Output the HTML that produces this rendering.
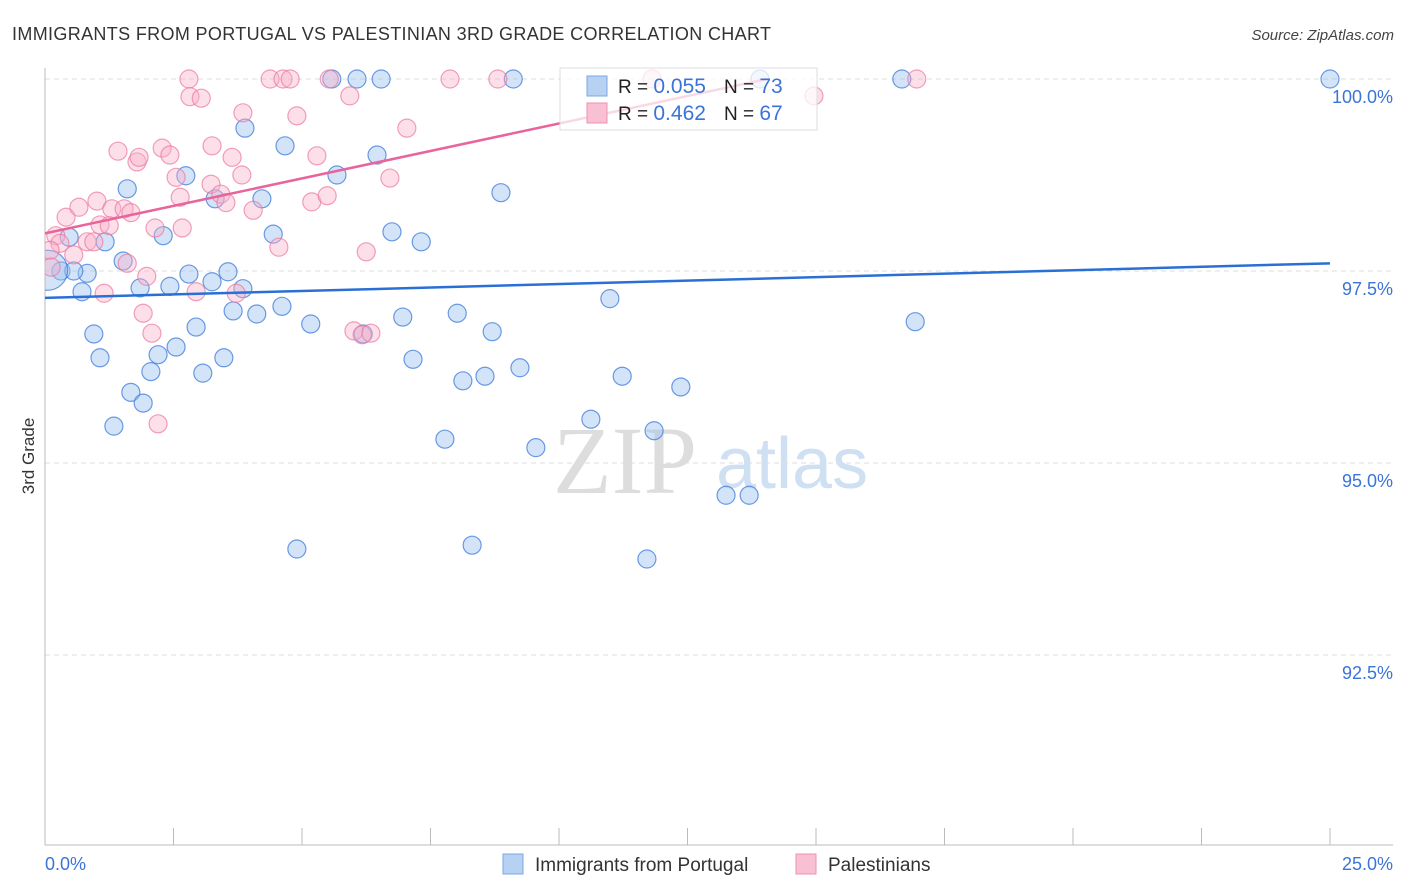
<!DOCTYPE html>
<html><head><meta charset="utf-8"><style>
body{margin:0;background:#fff;font-family:"Liberation Sans",sans-serif;}
svg{display:block}
</style></head><body>
<svg id="chart" width="1406" height="892">
<defs><clipPath id="plotclip"><rect x="45" y="60" width="1360" height="785"/></clipPath></defs>
<text x="12" y="40" font-size="18" fill="#333" textLength="759">IMMIGRANTS FROM PORTUGAL VS PALESTINIAN 3RD GRADE CORRELATION CHART</text>
<text x="1394" y="40" font-size="15" fill="#444" text-anchor="end" font-style="italic">Source: ZipAtlas.com</text>
<text x="34" y="456" font-size="17" fill="#333" text-anchor="middle" transform="rotate(-90 34 456)">3rd Grade</text>
<g><text x="553" y="493" font-size="96" font-family="Liberation Serif,serif" fill="#ddd">ZIP</text><text x="716" y="488" font-size="72" fill="#cfe0f3">atlas</text></g>
<g id="grid"></g><g id="pts" clip-path="url(#plotclip)"></g><g id="trends"></g>
<g id="legend">
<rect x="560" y="68" width="257" height="62" fill="rgba(255,255,255,0.75)" stroke="#ddd"/>
<rect x="587" y="76" width="20" height="20" fill="#b7d1f3" stroke="#7aa7e3"/>
<rect x="587" y="103" width="20" height="20" fill="#f8c0d2" stroke="#ee92b1"/>
<text x="618" y="93" font-size="19" fill="#222">R = <tspan fill="#3b74d8" font-size="21">0.055</tspan><tspan dx="18">N = </tspan><tspan fill="#3b74d8" font-size="21">73</tspan></text>
<text x="618" y="120" font-size="19" fill="#222">R = <tspan fill="#3b74d8" font-size="21">0.462</tspan><tspan dx="18">N = </tspan><tspan fill="#3b74d8" font-size="21">67</tspan></text>
</g>
<g>
<rect x="503" y="854" width="20" height="20" fill="#b7d1f3" stroke="#7aa7e3"/>
<text x="535" y="871" font-size="19" fill="#333">Immigrants from Portugal</text>
<rect x="796" y="854" width="20" height="20" fill="#f8c0d2" stroke="#ee92b1"/>
<text x="828" y="871" font-size="19" fill="#333">Palestinians</text>
</g>
</svg>
<script>
const blueX=[1.60,3.89,4.67,5.68,6.46,2.74,3.31,4.22,2.30,1.17,0.47,4.44,6.75,7.32,8.87,1.52,0.31,0.82,0.56,0.72,1.85,2.43,2.80,3.25,3.56,3.85,3.66,4.12,2.94,4.61,5.17,6.96,8.02,8.70,0.95,1.07,2.20,2.55,2.06,1.67,1.91,1.34,3.07,3.48,6.19,7.16,8.13,8.56,9.24,10.99,11.23,12.37,7.78,9.55,10.62,11.85,13.25,13.70,4.90,8.31,11.71,16.93,5.58,6.07,6.54,9.11,16.67,25.0,13.91,0.05];
const blueY=[98.57,99.36,99.13,98.75,99.01,98.74,98.44,98.44,97.96,97.88,97.94,97.98,98.01,97.88,98.52,97.63,97.50,97.47,97.50,97.23,97.28,97.30,97.46,97.36,97.49,97.27,96.98,96.94,96.77,97.04,96.81,96.90,96.95,96.71,96.68,96.37,96.41,96.51,96.19,95.92,95.78,95.48,96.17,96.37,96.68,96.35,96.07,96.13,96.24,97.14,96.13,95.99,95.31,95.20,95.57,95.42,94.58,94.58,93.88,93.93,93.75,96.84,100,100,100,100,100,100,100,97.51];
const pinkX=[2.80,4.38,4.63,4.77,5.53,7.88,8.81,11.81,16.96,2.82,3.04,5.93,3.85,4.90,7.04,14.96,1.42,1.79,1.83,2.28,2.43,3.25,3.64,5.29,3.83,2.55,2.63,3.23,3.42,3.52,4.05,5.19,5.49,6.71,0.41,0.66,1.01,1.30,1.54,1.67,1.07,1.25,2.67,2.14,4.55,6.25,0.82,0.95,0.21,0.29,0.10,0.56,1.60,1.98,1.15,2.94,3.72,1.91,2.08,6.01,6.17,6.34,2.20,0.12];
const pinkY=[100,100,100,100,100,100,100,100,100,99.77,99.75,99.78,99.56,99.52,99.36,99.78,99.06,98.92,98.98,99.10,99.01,99.13,98.98,99.00,98.75,98.72,98.46,98.63,98.50,98.39,98.29,98.40,98.48,98.71,98.20,98.33,98.41,98.31,98.31,98.26,98.10,98.09,98.06,98.06,97.81,97.75,97.88,97.88,97.96,97.86,97.77,97.71,97.60,97.43,97.21,97.23,97.21,96.95,96.69,96.72,96.67,96.69,95.51,97.55];
const yTicks=[100,97.5,95,92.5];
const yTickLabels=["100.0%","97.5%","95.0%","92.5%"];
const xTicks=[0,2.5,5,7.5,10,12.5,15,17.5,20,22.5,25];
const blueTrendX=[0,25], blueTrendY=[97.15,97.60];
const pinkTrendX=[0,14.05], pinkTrendY=[97.99,100];
const NS="http://www.w3.org/2000/svg";
const X=v=>45+v/25*1285, Y=v=>79+(100-v)*76.8;
function mk(tag,attrs,parent){const e=document.createElementNS(NS,tag);for(const k in attrs)e.setAttribute(k,attrs[k]);parent.appendChild(e);return e;}
const grid=document.getElementById('grid');
yTicks.forEach((t,i)=>{
 const l=mk('line',{x1:45,x2:1393,y1:Y(t),y2:Y(t),stroke:'#ddd','stroke-dasharray':'5,4'},grid);
 
 
 const tx=mk('text',{x:1393,y:Y(t)+24,'font-size':18,fill:'#3b74d8','text-anchor':'end'},grid);
 tx.textContent=yTickLabels[i];
 
 
});
const ax=mk('line',{x1:45,x2:1393,y1:845,y2:845,stroke:'#bbb'},grid);


const ay=mk('line',{x1:45,x2:45,y1:68,y2:845,stroke:'#bbb'},grid);


xTicks.forEach(t=>{
 const l=mk('line',{x1:X(t),x2:X(t),y1:828,y2:845,stroke:'#bbb'},grid);
 
 
});
const xl=mk('text',{x:45,y:870,'font-size':18,fill:'#3b74d8'},grid);xl.textContent='0.0%';


const xr=mk('text',{x:1393,y:870,'font-size':18,fill:'#3b74d8','text-anchor':'end'},grid);xr.textContent='25.0%';


const pts=document.getElementById('pts');
function series(xs,ys,fill,stroke,name){xs.forEach((x,i)=>{
 const r=(x<0.08)?20:9;
 const c=mk('circle',{cx:X(x),cy:Y(ys[i]),r:r,fill:fill,stroke:stroke,'stroke-width':1.2},pts);
 
 
});}
series(blueX,blueY,'rgba(160,195,240,0.45)','rgba(70,130,220,0.8)','point-portugal');
series(pinkX,pinkY,'rgba(248,175,200,0.4)','rgba(235,120,160,0.7)','point-palestinian');
const tr=document.getElementById('trends');
const bl=mk('line',{x1:X(blueTrendX[0]),y1:Y(blueTrendY[0]),x2:X(blueTrendX[1]),y2:Y(blueTrendY[1]),stroke:'#2a6fd6','stroke-width':2.5},tr);


const pl=mk('line',{x1:X(pinkTrendX[0]),y1:Y(pinkTrendY[0]),x2:X(pinkTrendX[1]),y2:Y(pinkTrendY[1]),stroke:'#e8649a','stroke-width':2.5},tr);


</script>
</body></html>
